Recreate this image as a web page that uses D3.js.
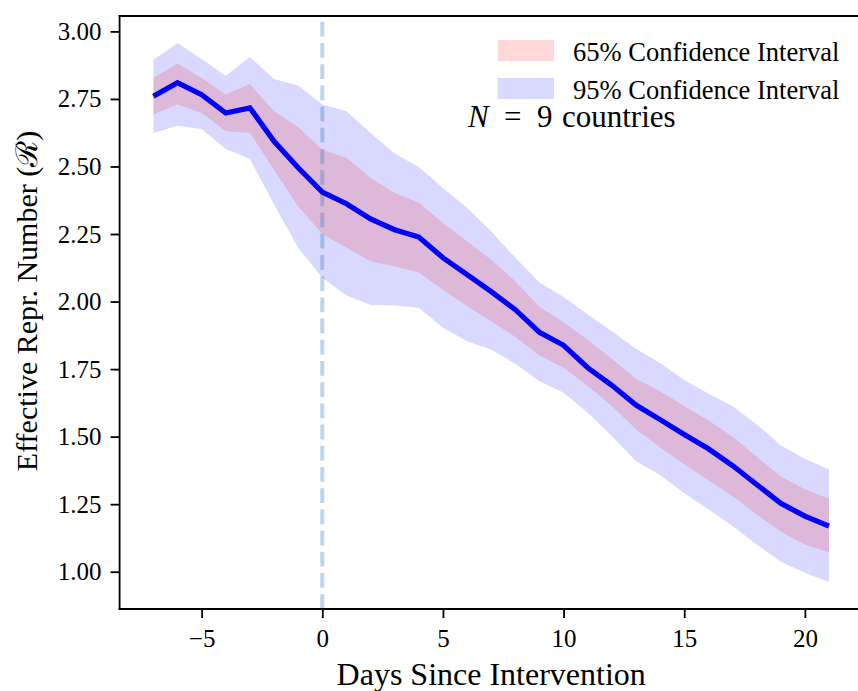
<!DOCTYPE html>
<html>
<head>
<meta charset="utf-8">
<script src="https://cdn.jsdelivr.net/npm/d3@7"></script>
<style>
  html, body { margin: 0; padding: 0; background: #fff; }
  svg { display: block; }
</style>
</head>
<body>
<svg id="chart" width="858" height="691"></svg>
<script>
// ---- data ----
const days = [-7,-6,-5,-4,-3,-2,-1,0,1,2,3,4,5,6,7,8,9,10,11,12,13,14,15,16,17,18,19,20,21];
const meanR = [2.76,2.81,2.766,2.698,2.717,2.593,2.495,2.405,2.362,2.306,2.266,2.239,2.162,2.10,2.037,1.970,1.886,1.838,1.755,1.690,1.617,1.563,1.508,1.455,1.393,1.323,1.253,1.206,1.169];
const upper95 = [2.895,2.957,2.898,2.836,2.905,2.824,2.80,2.729,2.704,2.624,2.548,2.498,2.42,2.347,2.26,2.162,2.071,2.017,1.952,1.89,1.825,1.773,1.71,1.66,1.613,1.545,1.468,1.418,1.378];
const lower95 = [2.624,2.651,2.639,2.565,2.528,2.359,2.199,2.088,2.022,1.987,1.985,1.977,1.903,1.853,1.822,1.77,1.705,1.662,1.588,1.502,1.409,1.358,1.29,1.231,1.169,1.101,1.037,0.996,0.962];
const upper65 = [2.828,2.881,2.828,2.766,2.805,2.704,2.646,2.562,2.532,2.458,2.402,2.367,2.291,2.223,2.155,2.075,1.98,1.923,1.859,1.788,1.714,1.668,1.613,1.561,1.50,1.426,1.352,1.305,1.27];
const lower65 = [2.692,2.729,2.698,2.63,2.624,2.488,2.353,2.25,2.199,2.149,2.131,2.108,2.044,1.983,1.927,1.869,1.80,1.755,1.687,1.613,1.527,1.46,1.397,1.339,1.28,1.212,1.148,1.101,1.071];
const xTicks = [-5,0,5,10,15,20];
const yTicks = [1.00,1.25,1.50,1.75,2.00,2.25,2.50,2.75,3.00];
const interventionDay = 0;
const legendLabels = ["65% Confidence Interval","95% Confidence Interval"];
const xLabel = "Days Since Intervention";
const yLabel = "Effective Repr. Number (\u211B)";

// ---- layout ----
const svg = d3.select("#chart");
const L = 119.6, R = 862.8, T = 16, B = 609;
const x = d3.scaleLinear().domain([-8.4, 22.4]).range([L, R]);
const y = d3.scaleLinear().domain([0.862, 3.057]).range([B, T]);
const serif = "'Liberation Serif', 'Times New Roman', serif";

const rows = days.map((d,i)=>({d, m: meanR[i], u95: upper95[i], l95: lower95[i], u65: upper65[i], l65: lower65[i]}));

svg.append("clipPath").attr("id","clip").append("rect")
  .attr("x", L).attr("y", T).attr("width", R-L).attr("height", B-T);
const plot = svg.append("g").attr("clip-path","url(#clip)");

plot.append("path").datum(rows)
  .attr("d", d3.area().x(r=>x(r.d)).y0(r=>y(r.l95)).y1(r=>y(r.u95)))
  .attr("fill","#0000ff").attr("fill-opacity",0.15);
plot.append("path").datum(rows)
  .attr("d", d3.area().x(r=>x(r.d)).y0(r=>y(r.l65)).y1(r=>y(r.u65)))
  .attr("fill","#ff0000").attr("fill-opacity",0.15);

plot.append("line")
  .attr("x1", x(interventionDay)).attr("x2", x(interventionDay))
  .attr("y1", B).attr("y2", T)
  .attr("stroke","#1f77b4").attr("stroke-opacity",0.3)
  .attr("stroke-width",4).attr("stroke-dasharray","14.8,6.4");

plot.append("path").datum(rows)
  .attr("d", d3.line().x(r=>x(r.d)).y(r=>y(r.m)))
  .attr("fill","none").attr("stroke","#0000ff").attr("stroke-width",5.2)
  .attr("stroke-linejoin","miter").attr("stroke-linecap","butt");

// ---- axes ----
const fmtX = v => (v < 0 ? "\u2212" + Math.abs(v) : String(v));
const xAxis = svg.append("g").attr("transform",`translate(0,${B})`)
  .call(d3.axisBottom(x).tickValues(xTicks).tickFormat(fmtX).tickSize(9).tickPadding(11).tickSizeOuter(0));
const yAxis = svg.append("g").attr("transform",`translate(${L},0)`)
  .call(d3.axisLeft(y).tickValues(yTicks).tickFormat(d3.format(".2f")).tickSize(9).tickPadding(9).tickSizeOuter(0));
[xAxis, yAxis].forEach(a=>{
  a.select(".domain").remove();
  a.selectAll(".tick line").attr("stroke","#000").attr("stroke-width",1.8);
  a.selectAll(".tick text").attr("fill","#000").style("font-family", serif).style("font-size","25px");
});

// spines
svg.append("line").attr("x1",L).attr("x2",L).attr("y1",T).attr("y2",B).attr("stroke","#000").attr("stroke-width",1.8).attr("stroke-linecap","square");
svg.append("line").attr("x1",L).attr("x2",R).attr("y1",B).attr("y2",B).attr("stroke","#000").attr("stroke-width",1.8).attr("stroke-linecap","square");
svg.append("line").attr("x1",L).attr("x2",R).attr("y1",T).attr("y2",T).attr("stroke","#000").attr("stroke-width",1.8).attr("stroke-linecap","square");
svg.append("line").attr("x1",R).attr("x2",R).attr("y1",T).attr("y2",B).attr("stroke","#000").attr("stroke-width",1.8);

// axis labels
svg.append("text").attr("x",(L+R)/2).attr("y",685).attr("text-anchor","middle")
  .style("font-family",serif).style("font-size","32px").text(xLabel);
svg.append("text").attr("transform",`translate(37,301) rotate(-90)`).attr("text-anchor","middle")
  .style("font-family",serif).style("font-size","30px").text(yLabel);

// legend
const legColors = ["#ff0000","#0000ff"];
legendLabels.forEach((lab,i)=>{
  const yy = 40 + i*38;
  svg.append("rect").attr("x",497.7).attr("y",yy).attr("width",56.3).attr("height",21)
    .attr("fill",legColors[i]).attr("fill-opacity",0.15);
  svg.append("text").attr("x",573).attr("y",yy+21).style("font-family",serif).style("font-size","26.5px").text(lab);
});

// annotation
const ann = svg.append("text").attr("y",127).style("font-family",serif).style("font-size","31px");
ann.append("tspan").attr("x",468).style("font-style","italic").text("N");
ann.append("tspan").attr("x",504).text("=");
ann.append("tspan").attr("x",537).text("9");
ann.append("tspan").attr("x",562).text("countries");
</script>
</body>
</html>
